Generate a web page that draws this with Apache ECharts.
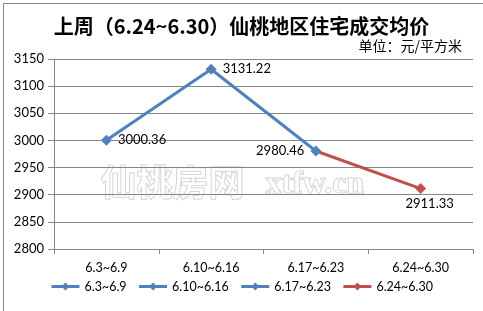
<!DOCTYPE html>
<html><head><meta charset="utf-8">
<script src="https://cdn.jsdelivr.net/npm/echarts@6/dist/echarts.min.js"></script>
<style>html,body{margin:0;padding:0;background:#fff}#c{width:483px;height:311px}</style>
</head><body><div id="c"></div>
<script>
var categories = ['6.3~6.9', '6.10~6.16', '6.17~6.23', '6.24~6.30'];
var seriesNames = ['6.3~6.9', '6.10~6.16', '6.17~6.23', '6.24~6.30'];
var blueValues = [3000.36, 3131.22, 2980.46, null];
var redValues = [null, null, 2980.46, 2911.33];
var yMin = 2800, yMax = 3150, yStep = 50;
var titleText = '上周（6.24~6.30）仙桃地区住宅成交均价';
var unitText = '单位：元/平方米';

var BLUE = '#4F81BD', RED = '#C0504D';
var numFont = 'Lato, "Open Sans", sans-serif';
var cjkFont = '"Noto Sans CJK SC", sans-serif';

var bluePos = ['right', 'right', 'left', 'right'];
var blueData = blueValues.map(function (v, i) {
  return v == null ? null : { value: v, label: { show: true, position: bluePos[i], distance: 6 } };
});
var redData = redValues.map(function (v, i) {
  if (v == null) return null;
  if (i === redValues.length - 1) {
    return { value: v, label: { show: true, position: 'bottom', offset: [9, -1], distance: 4 } };
  }
  return { value: v, symbolSize: 0, label: { show: false } };
});

function lineSeries(name, data, color, z) {
  return {
    name: name, type: 'line', data: data, z: z,
    symbol: 'diamond', symbolSize: 11, color: color,
    lineStyle: { width: 3, color: color }, itemStyle: { color: color },
    label: { fontFamily: numFont, fontSize: 13, color: '#000' }
  };
}

var chart = echarts.init(document.getElementById('c'));
chart.setOption({
  animation: false,
  backgroundColor: '#fff',
  title: [
    { text: titleText, left: 'center', top: 11,
      textStyle: { fontFamily: cjkFont, fontSize: 20, fontWeight: 'bold', color: '#000' } },
    { text: unitText, right: 16, top: 34,
      textStyle: { fontFamily: cjkFont, fontSize: 14, fontWeight: 'normal', color: '#000' } }
  ],
  graphic: [
    { type: 'rect', left: 1, top: 1, shape: { width: 480, height: 308 },
      style: { fill: 'none', stroke: '#888', lineWidth: 1 }, silent: true },
    { type: 'text', left: 100, top: 164, z: 0,
      style: { text: '仙桃房网', font: 'bold 36px ' + cjkFont, fill: 'rgba(255,255,255,0.6)', stroke: '#c4c4c4', lineWidth: 1 } },
    { type: 'text', left: 265, top: 168, z: 0,
      style: { text: 'xtfw.cn', font: 'bold 32px "Liberation Serif", serif', fill: 'rgba(255,255,255,0.6)', stroke: '#c4c4c4', lineWidth: 1 } }
  ],
  grid: { left: 54, right: 10, top: 59, bottom: 62 },
  legend: {
    bottom: 13, left: 'center', itemWidth: 28, itemHeight: 10, itemGap: 11,
    data: seriesNames,
    lineStyle: { width: 3 },
    textStyle: { fontFamily: numFont, fontSize: 12.5, color: '#000' }
  },
  xAxis: {
    type: 'category', data: categories, boundaryGap: true,
    axisLine: { lineStyle: { color: '#868686' } },
    axisTick: { show: true, length: 5, lineStyle: { color: '#868686' } },
    axisLabel: { margin: 12, fontFamily: numFont, fontSize: 12.5, color: '#000' }
  },
  yAxis: {
    type: 'value', min: yMin, max: yMax, interval: yStep,
    axisLine: { show: true, lineStyle: { color: '#868686' } },
    axisTick: { show: true, length: 6, lineStyle: { color: '#868686' } },
    splitLine: { lineStyle: { color: '#868686' } },
    axisLabel: { margin: 10, fontFamily: numFont, fontSize: 13, color: '#000',
      formatter: function (v) { return String(v); } }
  },
  series: [
    lineSeries(seriesNames[0], blueData, BLUE, 3),
    lineSeries(seriesNames[1], [], BLUE, 3),
    lineSeries(seriesNames[2], [], BLUE, 3),
    lineSeries(seriesNames[3], redData, RED, 2)
  ]
});
</script></body></html>
